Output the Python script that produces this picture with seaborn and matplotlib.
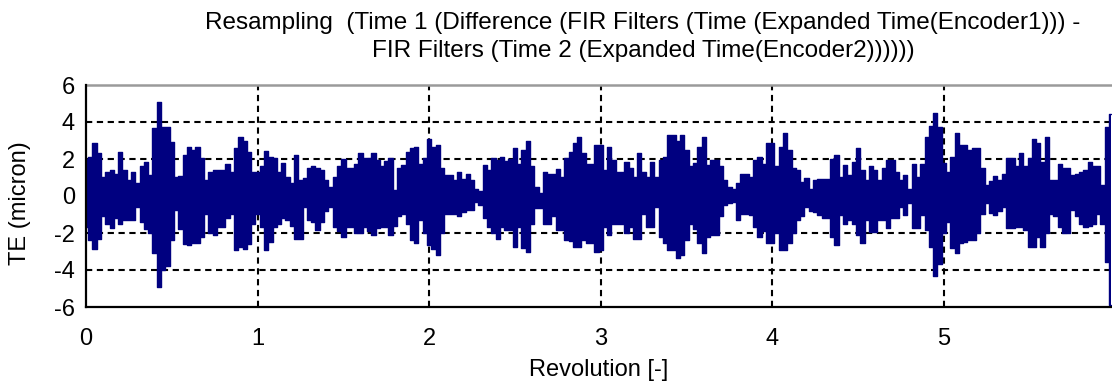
import numpy as np
import matplotlib
matplotlib.use("Agg")
import matplotlib.pyplot as plt
import seaborn as sns

# Peak envelope of the transmission error, sampled every 0.025 revolution
te_upper = [
    2.0, 2.1, 2.85, 2.3, 1.05, 1.3, 1.4, 1.2, 2.4, 1.4, 0.85, 1.3, 0.7, 1.6, 1.85, 1.15, 3.65, 5.1, 3.75, 3.75,
    2.9, 1.05, 1.1, 2.2, 2.65, 2.5, 2.65, 2.05, 0.85, 1.3, 1.4, 1.4, 1.4, 1.75, 1.3, 2.6, 3.2, 2.95, 2.4, 1.3,
    1.3, 1.6, 2.45, 2.1, 2.05, 1.3, 1.8, 1.05, 0.7, 2.2, 0.85, 1.0, 1.5, 1.6, 1.5, 1.4, 0.85, 0.5, 1.05, 1.6,
    2.0, 1.5, 1.5, 1.75, 2.3, 2.05, 2.05, 2.3, 1.95, 1.6, 1.9, 2.05, 0.3, 1.5, 1.7, 2.4, 2.6, 2.65, 1.75, 2.05,
    3.1, 2.65, 2.75, 1.5, 1.15, 1.15, 0.85, 1.3, 0.9, 1.2, 0.85, 0.4, 0.25, 1.7, 1.4, 2.05, 1.95, 2.1, 1.9, 2.0,
    2.6, 1.75, 2.5, 3.0, 1.6, 0.5, 0.15, 1.3, 1.2, 1.2, 1.45, 1.05, 2.05, 2.4, 2.85, 3.2, 2.3, 1.75, 1.75, 2.75,
    2.75, 1.4, 2.65, 1.95, 1.3, 1.3, 1.85, 1.5, 1.05, 2.3, 1.3, 1.05, 1.85, 1.05, 1.95, 2.1, 3.3, 3.3, 2.95, 3.3,
    2.5, 1.6, 1.8, 2.65, 3.2, 1.7, 1.95, 1.95, 1.6, 0.85, 0.5, 0.4, 0.7, 1.2, 1.2, 1.05, 1.95, 2.1, 1.75, 2.85,
    2.85, 1.6, 2.65, 3.4, 2.5, 1.5, 1.4, 0.75, 0.95, 0.4, 0.85, 0.9, 0.9, 0.9, 2.0, 2.2, 1.05, 1.7, 1.15, 1.85,
    2.6, 1.4, 0.85, 1.6, 1.4, 0.85, 1.5, 1.95, 1.95, 1.3, 0.85, 1.15, 0.4, 1.75, 1.05, 1.75, 3.2, 3.8, 4.5, 3.75,
    1.8, 1.3, 2.1, 3.4, 2.75, 2.75, 2.5, 2.6, 2.6, 1.5, 0.6, 0.8, 1.1, 0.85, 1.2, 2.05, 2.05, 1.6, 2.3, 1.6,
    2.05, 3.1, 2.85, 1.85, 3.2, 0.85, 0.85, 1.75, 1.5, 1.5, 1.15, 1.2, 1.3, 1.4, 1.85, 1.6, 1.6, 0.6, 3.75, 4.45,
]
te_lower = [
    -1.65, -2.4, -2.85, -2.3, -1.1, -1.5, -1.75, -1.2, -1.5, -1.3, -1.3, -1.3, -0.6, -1.4, -1.8, -2.0, -3.1, -4.9, -4.0, -3.8,
    -2.4, -0.75, -1.8, -2.6, -2.65, -2.55, -2.55, -2.2, -0.95, -2.0, -2.1, -1.7, -1.65, -1.2, -0.95, -2.9, -2.75, -2.85, -2.6, -1.5,
    -0.95, -1.65, -2.9, -2.5, -1.65, -1.5, -1.2, -1.3, -1.6, -2.3, -2.35, -0.6, -1.3, -1.4, -1.85, -1.4, -0.8, -0.6, -1.65, -1.9,
    -2.2, -1.7, -1.65, -2.0, -2.0, -1.65, -1.9, -2.1, -1.75, -1.65, -1.7, -2.1, -1.6, -1.1, -0.95, -1.5, -2.4, -2.55, -1.3, -2.0,
    -2.65, -2.85, -3.2, -2.0, -0.95, -0.95, -0.95, -1.1, -0.85, -0.75, -0.75, -0.3, -0.5, -1.2, -1.65, -2.0, -2.3, -1.65, -1.85, -1.85,
    -2.75, -1.65, -2.8, -3.0, -1.5, -0.65, -0.65, -1.5, -1.5, -1.1, -1.85, -1.85, -2.4, -2.45, -2.75, -2.75, -2.4, -2.55, -2.55, -3.0,
    -2.9, -1.65, -2.1, -1.5, -1.5, -1.5, -2.0, -1.65, -2.3, -2.3, -0.95, -1.65, -1.65, -0.6, -2.2, -2.55, -2.9, -2.9, -3.35, -3.2,
    -2.4, -1.5, -1.8, -2.55, -3.1, -2.2, -2.1, -2.1, -1.1, -0.5, -0.4, -0.3, -1.3, -0.95, -0.95, -1.0, -1.65, -2.2, -1.9, -2.55,
    -2.55, -2.0, -2.9, -2.9, -2.55, -2.0, -1.3, -1.1, -0.6, -0.8, -0.85, -1.0, -1.2, -1.2, -2.2, -2.65, -1.0, -1.5, -1.3, -1.5,
    -2.1, -2.55, -1.3, -1.95, -1.95, -1.3, -1.3, -1.75, -1.2, -1.2, -0.6, -1.0, -0.4, -1.75, -1.75, -1.0, -1.85, -2.75, -4.3, -3.65,
    -2.0, -1.4, -2.8, -3.1, -2.55, -2.5, -2.4, -2.4, -2.0, -0.95, -0.4, -0.9, -1.0, -0.8, -0.6, -1.75, -1.75, -1.65, -1.65, -1.85,
    -2.75, -2.75, -2.2, -2.75, -2.0, -0.95, -1.1, -1.65, -2.0, -2.0, -0.75, -1.1, -1.5, -1.65, -1.6, -1.5, -0.95, -1.5, -3.55, -5.9,
]
revolution = np.round(np.arange(len(te_upper)) * 0.025, 3)

x_ticks = [0, 1, 2, 3, 4, 5]
y_ticks = [-6, -4, -2, 0, 2, 4, 6]
title_lines = [
    "Resampling  (Time 1 (Difference (FIR Filters (Time (Expanded Time(Encoder1))) -",
    "FIR Filters (Time 2 (Expanded Time(Encoder2))))))",
]
x_label = "Revolution [-]"
y_label = "TE (micron)"

sns.set_theme(style="white")
plt.rcParams["font.family"] = ["Liberation Sans", "DejaVu Sans"]
plt.rcParams["axes.unicode_minus"] = False

NAVY = "#000080"
FS = 17

fig = plt.figure(figsize=(11.12, 3.83), dpi=100)
ax = fig.add_axes([86 / 1112, 76 / 383, 1026 / 1112, 222 / 383])

ax.fill_between(revolution, te_lower, te_upper, step="mid", color=NAVY, lw=0, zorder=3)
sns.lineplot(x=revolution, y=te_upper, ax=ax, color=NAVY, lw=1.0, drawstyle="steps-mid",
             estimator=None, zorder=3)
sns.lineplot(x=revolution, y=te_lower, ax=ax, color=NAVY, lw=1.0, drawstyle="steps-mid",
             estimator=None, zorder=3)

ax.set_xlim(0, 5.98)
ax.set_ylim(-6, 6)
ax.set_xticks(x_ticks)
ax.set_yticks(y_ticks)
ax.set_xticklabels([str(t) for t in x_ticks])
ax.set_yticklabels([str(t) for t in y_ticks])

# dashed reference grid
grid_kw = dict(color="black", lw=1.5, dashes=(3, 2.2), zorder=2)
for yv in y_ticks[1:-1]:
    ax.axhline(yv, **grid_kw)
for xv in x_ticks[1:]:
    ax.axvline(xv, **grid_kw)

for side in ("left", "bottom"):
    ax.spines[side].set_color("black")
    ax.spines[side].set_linewidth(1.6)
    ax.spines[side].set_zorder(4)
ax.spines["top"].set_color("#9a9a9a")
ax.spines["top"].set_linewidth(1.8)
ax.spines["right"].set_visible(False)

ax.tick_params(axis="both", which="major", direction="inout", length=8, width=1.4,
               color="black", labelsize=FS, labelcolor="black")
ax.tick_params(axis="x", pad=11)
ax.tick_params(axis="y", pad=4)
ax.tick_params(top=False, right=False)

ax.set_xlabel(x_label, fontsize=FS, color="black", va="center")
ax.set_ylabel(y_label, fontsize=FS, color="black")
ax.xaxis.set_label_coords(0.5, -0.285)
ax.yaxis.set_label_coords(-0.054, 0.47)

fig.text(643 / 1112, 1 - 23 / 383, title_lines[0], ha="center", va="center", fontsize=17.5, color="black")
fig.text(643 / 1112, 1 - 51 / 383, title_lines[1], ha="center", va="center", fontsize=17.5, color="black")

fig.savefig("out.png", dpi=100, facecolor="white")
